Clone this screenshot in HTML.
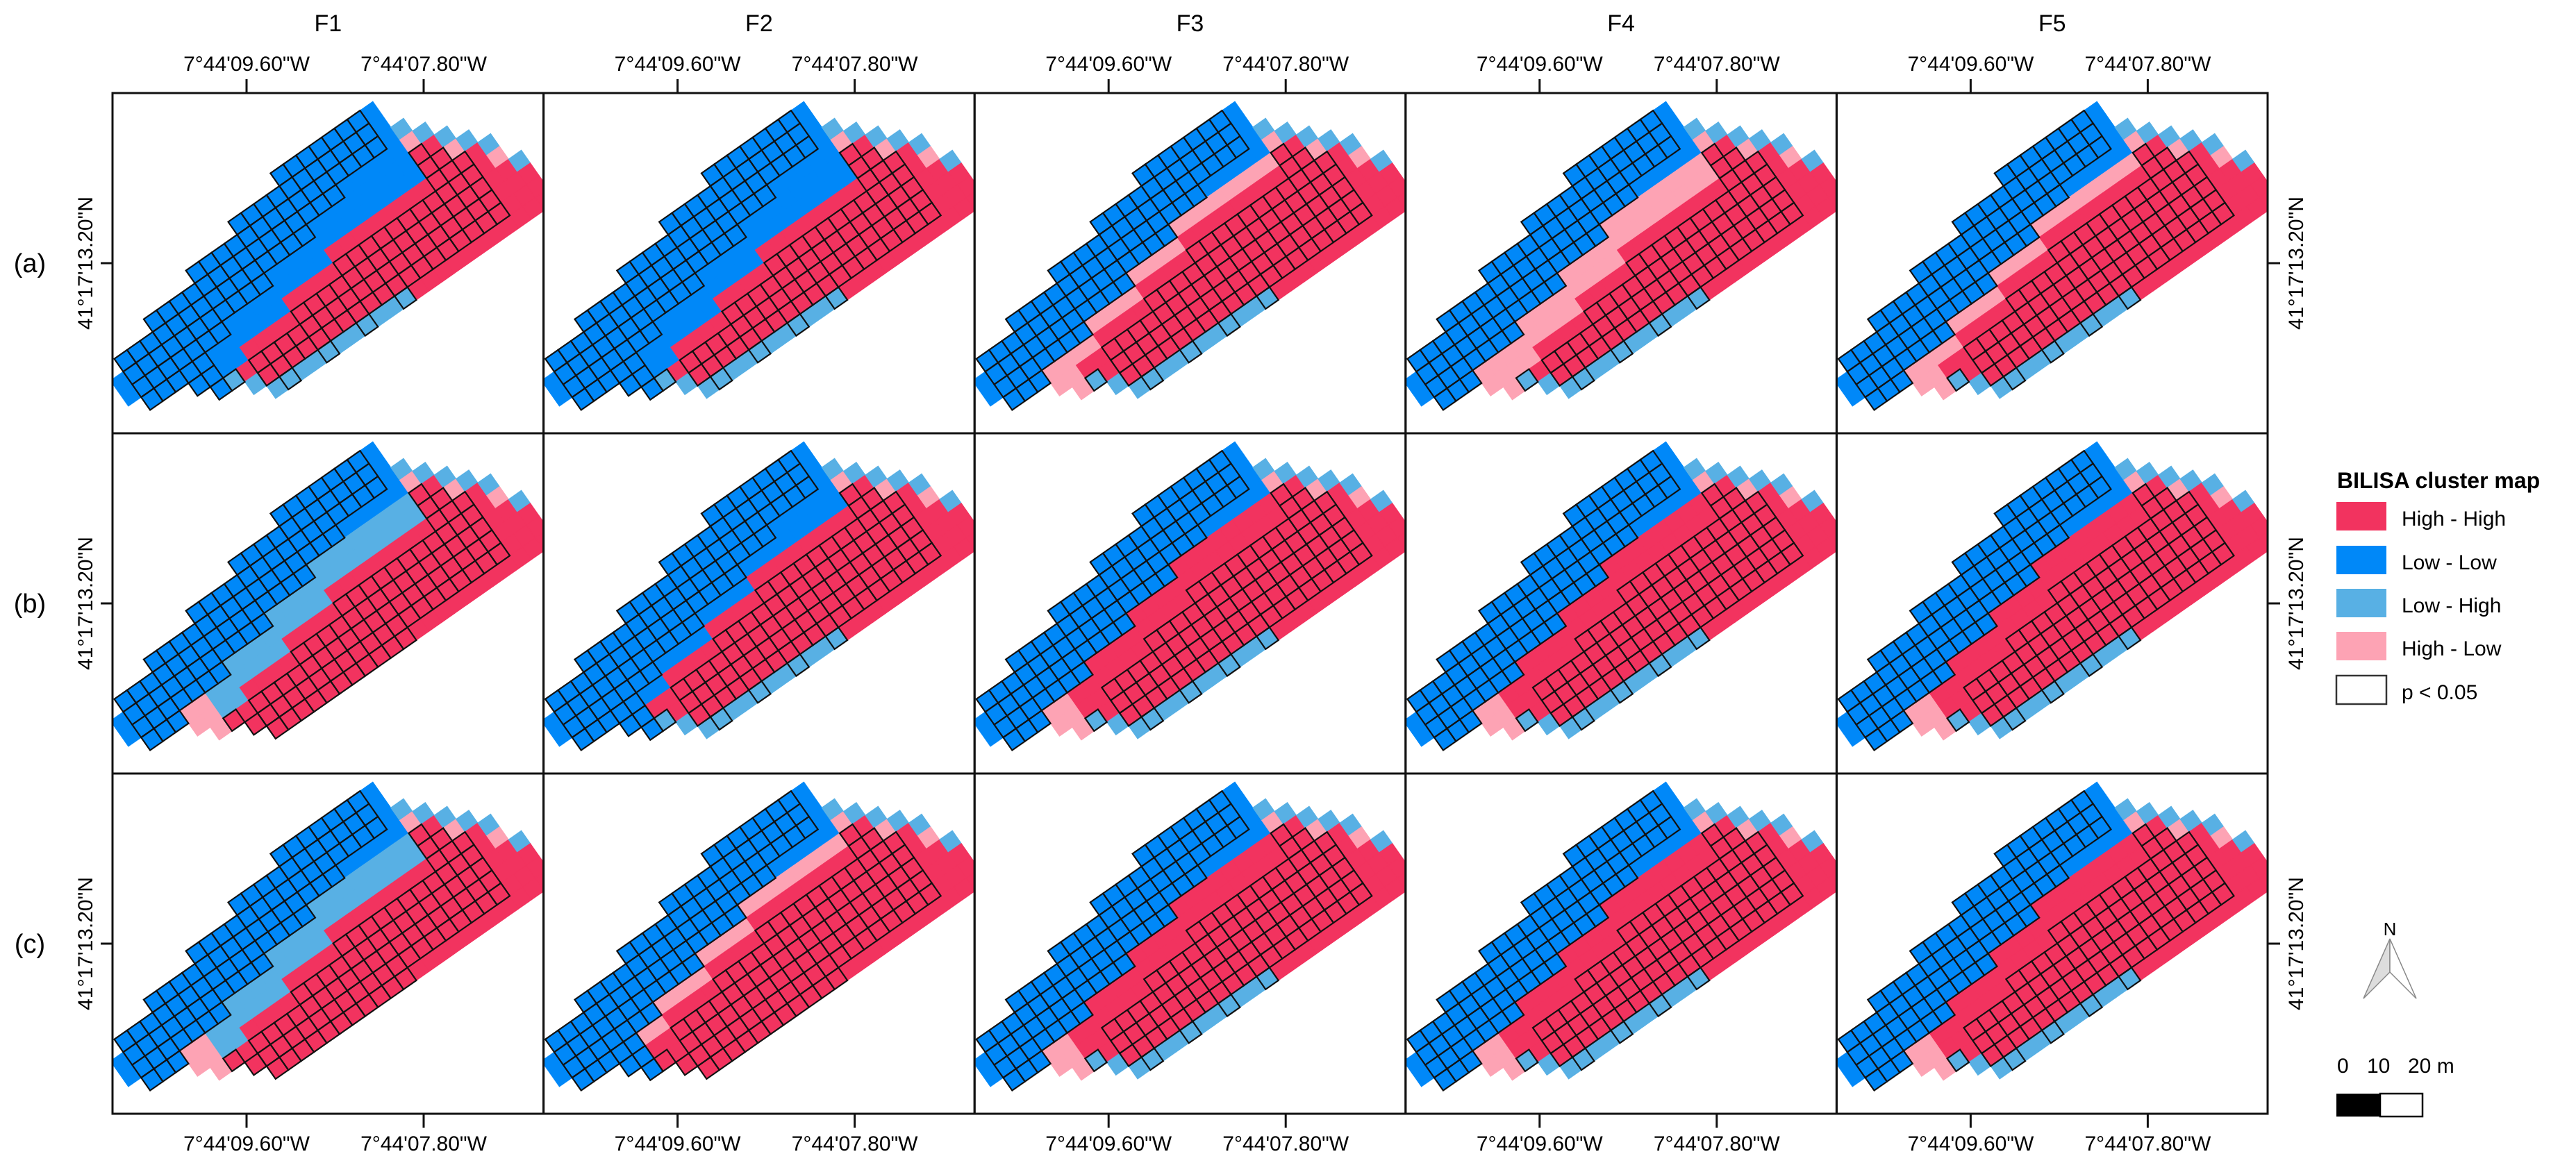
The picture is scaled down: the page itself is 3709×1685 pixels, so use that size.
<!DOCTYPE html>
<html><head><meta charset="utf-8"><style>
html,body{margin:0;padding:0;background:#fff;}
svg{display:block;font-family:"Liberation Sans",Arial,sans-serif;}
</style></head><body>
<svg id="fig" width="3709" height="1685" viewBox="0 0 3709 1685" xmlns="http://www.w3.org/2000/svg">
<g id="panels"></g>
<g id="axes"></g>
<g>
  <text x="3365" y="703" font-size="32" font-weight="bold">BILISA cluster map</text>
  <g><rect x="3364" y="723" width="72" height="41" fill="#f2335f"/><text x="3458" y="757" font-size="30">High - High</text></g>
  <g><rect x="3364" y="786" width="72" height="41" fill="#0088f8"/><text x="3458" y="820" font-size="30">Low - Low</text></g>
  <g><rect x="3364" y="848" width="72" height="41" fill="#58b0e4"/><text x="3458" y="882" font-size="30">Low - High</text></g>
  <g><rect x="3364" y="910" width="72" height="41" fill="#fda3b4"/><text x="3458" y="944" font-size="30">High - Low</text></g>
  <g><rect x="3364" y="973" width="72" height="41" fill="#fff" stroke="#333" stroke-width="2.5"/><text x="3458" y="1007" font-size="30">p &lt; 0.05</text></g>
</g>
<g>
  <text x="3441" y="1347" font-size="26" text-anchor="middle">N</text>
  <polygon points="3441,1352 3403,1438 3441,1400" fill="#ddd" stroke="#888" stroke-width="1.5"/>
  <polygon points="3441,1352 3479,1438 3441,1400" fill="#fff" stroke="#888" stroke-width="1.5"/>
</g>
<g>
  <text x="3365" y="1545" font-size="30">0</text>
  <text x="3408" y="1545" font-size="30">10</text>
  <text x="3467" y="1545" font-size="30">20 m</text>
  <rect x="3364" y="1575" width="63" height="33" fill="#000"/>
  <rect x="3427" y="1575" width="61" height="33" fill="#fff" stroke="#000" stroke-width="2.5"/>
</g>
</svg>
<script>
// ---- data ----
const columnTitles = ['F1','F2','F3','F4','F5'];
const rowLabels = ['(a)','(b)','(c)'];
const lonTicks = ['7°44\'09.60"W','7°44\'07.80"W'];
const latTick = '41°17\'13.20"N';
// field shape: per-column (along strip) first and last row index
const colStart = [5,4,4,4,3,3,3,3,2,2,2,2,1,1,1,1,0,0,0,0,0,0,0,0,2,3,4,5,6,8];
const colEnd   = [7,8,8,8,9,10,10,11,12,12,12,12,12,12,12,12,12,12,12,12,12,12,12,12,12,12,12,12,12,12];
// per-panel cluster zone parameters (a-F1..F5, b-F1..F5, c-F1..F5)
const lowLowWidth = [4,4,4,4,4, 4,4,4,4,4, 4,4,4,4,4];
const midClass = ['LL','LL','HL','HL','HL', 'LH','LL','HH','HH','HH', 'LH','HL','HH','HH','HH'];
const midWidth = [2,2,1,2,1, 2,1,1,1,1, 2,1,1,1,1];
const tipClass = ['LL','LL','HL','HL','HL', 'HL','LL','HL','HL','HL', 'HL','LL','HL','HL','HL'];
const bottomClass = ['LH','LH','LH','LH','LH', 'HH','LH','LH','LH','LH', 'HH','HH','LH','LH','LH'];

const colors = {HH:'#f2335f', LL:'#0088f8', LH:'#58b0e4', HL:'#fda3b4'};
const NS='http://www.w3.org/2000/svg';
const PX0=162, PY0=134, PW=620.6, PH=490, S=22.5, U0=-240, V0=225;
const eu=[Math.cos(35*Math.PI/180), -Math.sin(35*Math.PI/180)], ev=[-eu[1], eu[0]];
function mk(tag, attrs, parent){const e=document.createElementNS(NS,tag);for(const k in attrs)e.setAttribute(k,attrs[k]);parent.appendChild(e);return e;}
function pt(px,py,i,j){const u=U0+i*S, v=V0+j*S;return [px+u*eu[0]+v*ev[0], py+u*eu[1]+v*ev[1]];}
function classify(p,i,j){
  const d=j-colStart[i];
  if(i>=24){ if(d<1) return ['LH',false]; if(d<2 && i%2===0) return ['HL',false]; return ['HH', i<=26 && j<colEnd[i]-1 && d>=2]; }
  if(d<lowLowWidth[p]) return ['LL', i>=1 && i<=22 && !(d===lowLowWidth[p]-1 && i>18)];
  if(i<6) return [tipClass[p], tipClass[p]==='LL'];
  const m=lowLowWidth[p]+midWidth[p];
  if(d<m) return [midClass[p], false];
  if(j>=colEnd[i]-1 && i<19) return [bottomClass[p], bottomClass[p]==='HH' || i%3===0];
  return ['HH', i>=8 && i<=23 && j<colEnd[i]-1 && d>=m+1];
}
const panels=document.getElementById('panels');
const defs=mk('defs',{},panels);
for(let r=0;r<3;r++)for(let c=0;c<5;c++){
  const p=r*5+c, px=PX0+c*PW, py=PY0+r*PH;
  const cp=mk('clipPath',{id:'cp'+p},defs);
  mk('rect',{x:px,y:py,width:PW,height:PH},cp);
  const g=mk('g',{'clip-path':'url(#cp'+p+')'},panels);
  
  
  const sig=[];
  for(let i=0;i<colStart.length;i++)for(let j=colStart[i];j<colEnd[i];j++){
    const [cls,s]=classify(p,i,j);
    const q=[pt(px,py,i,j),pt(px,py,i+1,j),pt(px,py,i+1,j+1),pt(px,py,i,j+1)];
    const poly=mk('polygon',{points:q.map(a=>a.join(',')).join(' '),fill:colors[cls],stroke:colors[cls],'stroke-width':1},g);
    
    
    if(s) sig.push(q);
  }
  sig.forEach(q=>{
    const o=mk('polygon',{points:q.map(a=>a.join(',')).join(' '),fill:'none',stroke:'#111','stroke-width':2.2},g);
    
    
  });
  const b=mk('rect',{x:px,y:py,width:PW,height:PH,fill:'none',stroke:'#111','stroke-width':3},panels);
  
  
}
const axes=document.getElementById('axes');
const tickOff=[193,448];
for(let c=0;c<5;c++){
  const px=PX0+c*PW;
  const t=mk('text',{x:px+PW/2,y:45,'font-size':34,'text-anchor':'middle'},axes);t.textContent=columnTitles[c];
  
  
  for(let k=0;k<2;k++){
    const x=px+tickOff[k];
    mk('line',{x1:x,y1:114,x2:x,y2:134,stroke:'#111','stroke-width':3},axes);
    mk('line',{x1:x,y1:1604,x2:x,y2:1624,stroke:'#111','stroke-width':3},axes);
    const a=mk('text',{x:x,y:102,'font-size':30,'text-anchor':'middle'},axes);a.textContent=lonTicks[k];
    
    
    const bt=mk('text',{x:x,y:1657,'font-size':30,'text-anchor':'middle'},axes);bt.textContent=lonTicks[k];
    
    
  }
}
for(let r=0;r<3;r++){
  const cy=PY0+r*PH+PH/2;
  mk('line',{x1:145,y1:cy,x2:162,y2:cy,stroke:'#111','stroke-width':3},axes);
  mk('line',{x1:3265,y1:cy,x2:3283,y2:cy,stroke:'#111','stroke-width':3},axes);
  const l=mk('text',{x:0,y:0,'font-size':30,'text-anchor':'middle',transform:'translate(133,'+cy+') rotate(-90)'},axes);l.textContent=latTick;
  
  
  const rt=mk('text',{x:0,y:0,'font-size':30,'text-anchor':'middle',transform:'translate(3316,'+cy+') rotate(-90)'},axes);rt.textContent=latTick;
  
  
  const rl=mk('text',{x:43,y:cy+13,'font-size':38,'text-anchor':'middle'},axes);rl.textContent=rowLabels[r];
  
  
}
</script>
</body></html>
